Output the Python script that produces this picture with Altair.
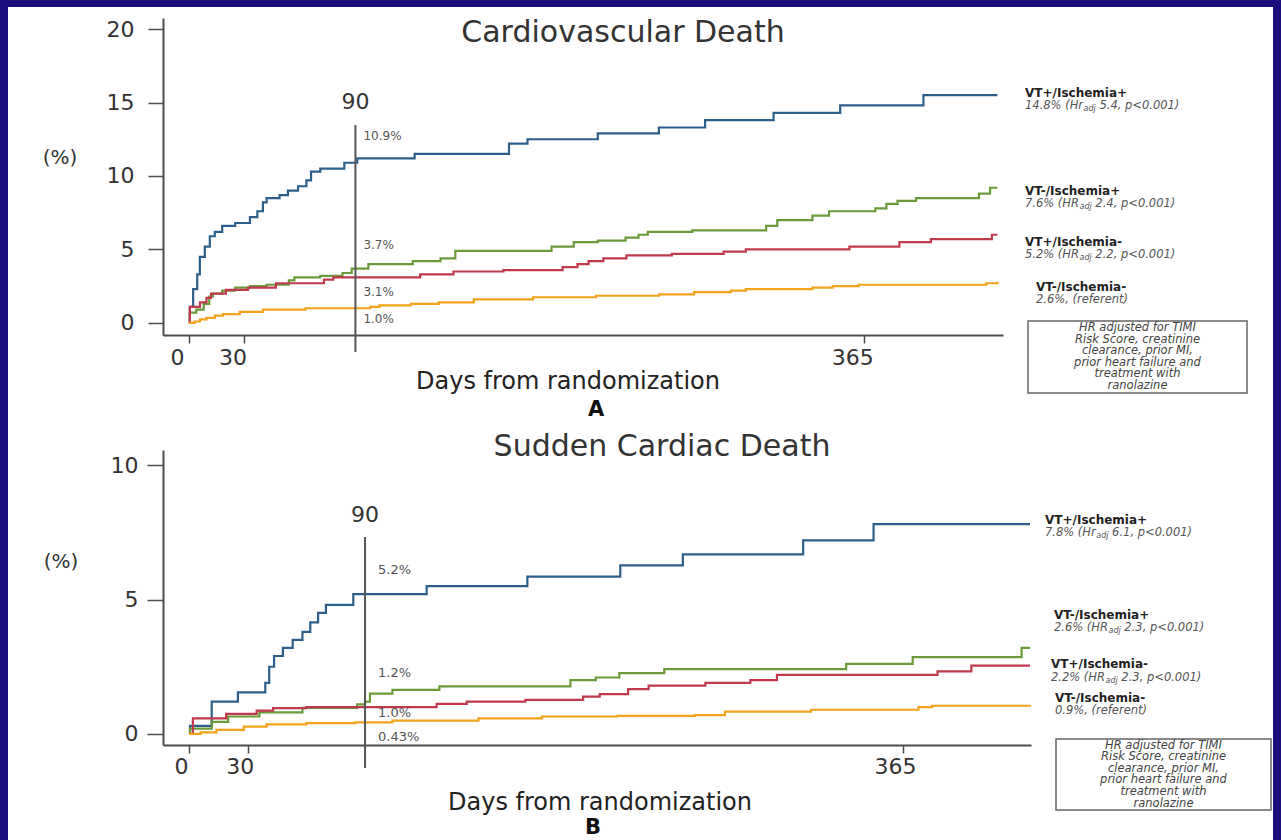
import altair as alt
import pandas as pd

FONT = "DejaVu Sans"
GROUPS = ["VT+/Ischemia+", "VT-/Ischemia+", "VT+/Ischemia-", "VT-/Ischemia-"]
COLORS = ["#2E5F8A", "#6A9A3A", "#C0394D", "#F2A21B"]

# ---- Panel A: cardiovascular death, cumulative incidence (%) by day ----
a_days = [
    [0, 0.5, 2.3, 4.5, 5.9, 8.6, 11.3, 14, 18, 25, 33, 37, 40, 42, 49, 53.5, 59, 63.5, 66, 71,
     84, 91, 122, 173, 183, 221, 254, 279, 316, 352, 397, 437],
    [0, 0.5, 4, 8, 11, 13, 18, 25, 33, 42, 54, 57, 71, 83, 88, 97, 121, 136, 144, 196, 208, 221,
     236, 243, 248, 272, 312, 318, 337, 346, 371, 377, 383, 393, 427, 433, 437],
    [0, 0.5, 6, 9.5, 12, 20, 32, 47, 73, 78, 125, 143, 170, 202, 210, 216, 224, 236.5, 261, 289,
     301, 357, 384, 401, 434, 437],
    [0, 3, 6, 9.5, 14, 18.5, 27.5, 40, 63, 98, 103, 120, 135, 154, 186, 220, 254, 273, 293, 301,
     337, 348, 362, 431, 437],
]
a_pct = [
    [0, 1.1, 2.3, 3.3, 4.5, 5.2, 5.9, 6.2, 6.6, 6.8, 7.2, 7.6, 8.2, 8.5, 8.7, 9.0, 9.3, 9.7, 10.3,
     10.5, 10.9, 11.2, 11.5, 12.2, 12.5, 12.9, 13.3, 13.8, 14.3, 14.8, 15.5, 15.5],
    [0, 0.7, 0.9, 1.3, 1.8, 2.0, 2.2, 2.4, 2.5, 2.6, 2.9, 3.1, 3.2, 3.4, 3.7, 4.0, 4.2, 4.4, 4.9,
     5.2, 5.5, 5.6, 5.8, 6.0, 6.2, 6.3, 6.6, 7.0, 7.3, 7.6, 7.8, 8.1, 8.3, 8.5, 8.8, 9.2, 9.2],
    [0, 1.1, 1.4, 1.7, 2.0, 2.25, 2.4, 2.7, 2.95, 3.1, 3.3, 3.5, 3.6, 3.8, 4.0, 4.2, 4.4, 4.6,
     4.7, 4.85, 5.0, 5.2, 5.5, 5.7, 6.0, 6.0],
    [0, 0.1, 0.25, 0.35, 0.5, 0.6, 0.75, 0.9, 1.0, 1.1, 1.2, 1.3, 1.4, 1.6, 1.75, 1.85, 1.95,
     2.1, 2.2, 2.3, 2.4, 2.5, 2.6, 2.7, 2.8],
]

# ---- Panel B: sudden cardiac death ----
b_days = [
    [0, 0.5, 11.6, 25, 39, 41, 43.5, 48, 53, 58, 62, 66, 70, 84, 121.5, 173, 220.5, 252.5, 314,
     350, 430],
    [0, 0.5, 11.6, 20, 36, 58, 86, 90, 92.5, 104, 128, 195, 208, 220, 243, 336, 370, 425.7, 430],
    [0, 2, 19, 34.6, 43, 60, 126.6, 142, 172, 201.5, 210, 224.5, 235, 264, 287, 300.6, 382.7,
     400, 430],
    [0, 6, 14, 28, 39.7, 60, 85, 104, 148, 180.5, 219, 258.7, 274, 318, 373, 380, 430],
]
b_pct = [
    [0, 0.3, 1.2, 1.55, 1.9, 2.5, 2.9, 3.2, 3.5, 3.8, 4.15, 4.5, 4.8, 5.2, 5.5, 5.85, 6.27, 6.68,
     7.2, 7.8, 7.8],
    [0, 0.2, 0.45, 0.65, 0.8, 0.97, 1.1, 1.2, 1.5, 1.64, 1.77, 2.0, 2.1, 2.26, 2.41, 2.61, 2.86,
     3.2, 3.2],
    [0, 0.58, 0.75, 0.87, 0.96, 1.0, 1.12, 1.2, 1.27, 1.39, 1.48, 1.67, 1.8, 1.9, 2.0, 2.2, 2.33,
     2.54, 2.54],
    [0, 0.06, 0.15, 0.27, 0.36, 0.4, 0.43, 0.5, 0.58, 0.65, 0.67, 0.7, 0.83, 0.9, 1.0, 1.05, 1.08],
]

# Values printed at the day-90 marker and next to each curve
a_at90 = ["10.9%", "3.7%", "3.1%", "1.0%"]
b_at90 = ["5.2%", "1.2%", "1.0%", "0.43%"]
a_stats = [("14.8% (Hr", "5.4, p<0.001)"), ("7.6% (HR", "2.4, p<0.001)"),
           ("5.2% (HR", "2.2, p<0.001)"), ("2.6%, (referent)", None)]
b_stats = [("7.8% (Hr", "6.1, p<0.001)"), ("2.6% (HR", "2.3, p<0.001)"),
           ("2.2% (HR", "2.3, p<0.001)"), ("0.9%, (referent)", None)]
NOTE = ["HR adjusted for TIMI", "Risk Score, creatinine", "clearance, prior MI,",
        "prior heart failure and", "treatment with", "ranolazine"]
MARK_DAY = 90

# ---- layout (pixels) ----
XA = alt.Scale(domain=[-14, 440], range=[163, 1003], nice=False, zero=False)
YA = alt.Scale(domain=[-0.82, 20.75], range=[335, 18], nice=False, zero=False)
XB = alt.Scale(domain=[-13.3, 430.5], range=[163, 1031], nice=False, zero=False)
YB = alt.Scale(domain=[-0.41, 10.56], range=[745, 450], nice=False, zero=False)
H = 840
SUB = 11.5       # size of the italic statistics lines
NOTE_LH = 11.6   # line height inside the note boxes

# DejaVu Sans advance widths (em) for measuring the subscript positions
ADV = {**{d: 0.636 for d in "0123456789"}, ".": 0.318, "%": 0.950, " ": 0.318,
       "(": 0.390, "H": 0.752, "r": 0.411, "R": 0.695, "a": 0.613, "d": 0.635, "j": 0.278,
       ",": 0.318}


def text_width(s, size):
    return sum(ADV.get(c, 0.6) for c in s) * size


def series_frame(days_list, pct_list):
    rows = []
    for g, ds, ps in zip(GROUPS, days_list, pct_list):
        rows += [{"group": g, "day": d, "pct": p} for d, p in zip(ds, ps)]
    return pd.DataFrame(rows)


def axis_common(**kw):
    base = dict(labelFont=FONT, labelFontSize=22, labelColor="#333", domainColor="#4d4d4d",
                domainWidth=2, tickColor="#4d4d4d", tickWidth=1.5, grid=False, title=None,
                labelFlush=False, labelOverlap=False)
    base.update(kw)
    return alt.Axis(**base)


def curves(days_list, pct_list, xs, ys, x_axis, y_axis):
    return alt.Chart(series_frame(days_list, pct_list)).mark_line(
        interpolate="step-after", strokeWidth=2.2
    ).encode(
        x=alt.X("day:Q", scale=xs, axis=x_axis),
        y=alt.Y("pct:Q", scale=ys, axis=y_axis),
        color=alt.Color("group:N", scale=alt.Scale(domain=GROUPS, range=COLORS), legend=None),
        detail="group:N",
    )


def pixel_text(rows, **mark):
    df = pd.DataFrame(rows, columns=["label", "px", "py"])
    return alt.Chart(df).mark_text(font=FONT, **mark).encode(
        x=alt.X("px:Q", scale=None, axis=None),
        y=alt.Y("py:Q", scale=None, axis=None),
        text="label:N",
    )


def day_marker(xs, top, bottom, label_y):
    df = pd.DataFrame({"day": [MARK_DAY], "label": [str(MARK_DAY)]})
    rule = alt.Chart(df).mark_rule(color="#555", strokeWidth=2).encode(
        x=alt.X("day:Q", scale=xs, axis=None), y=alt.value(top), y2=alt.value(bottom))
    lab = alt.Chart(df).mark_text(font=FONT, fontSize=22, color="#333", baseline="middle").encode(
        x=alt.X("day:Q", scale=xs, axis=None), y=alt.value(label_y), text="label:N")
    return [rule, lab]


def at90_labels(xs, labels, ys_px, size, dx):
    df = pd.DataFrame({"day": [MARK_DAY] * len(labels), "label": labels, "py": ys_px})
    return alt.Chart(df).mark_text(font=FONT, fontSize=size, color="#555", align="left",
                                   baseline="middle", dx=dx).encode(
        x=alt.X("day:Q", scale=xs, axis=None),
        y=alt.Y("py:Q", scale=None, axis=None),
        text="label:N",
    )


def group_labels(xs_px, head_y, sub_y, stats):
    heads, subs, adjs = [], [], []
    for g, x, hy, sy, (pre, post) in zip(GROUPS, xs_px, head_y, sub_y, stats):
        heads.append((g, x, hy))
        subs.append((pre, x, sy))
        if post:
            xa = x + text_width(pre, SUB) + 0.5
            adjs.append(("adj", xa, sy + 3))
            subs.append((post, xa + text_width("adj", 8) + text_width(" ", SUB), sy))
    return [
        pixel_text(heads, fontSize=12, fontWeight="bold", color="#222", align="left", baseline="middle"),
        pixel_text(subs, fontSize=SUB, fontStyle="italic", color="#555", align="left", baseline="middle"),
        pixel_text(adjs, fontSize=8, fontStyle="italic", color="#555", align="left", baseline="middle"),
    ]


def note_box(x0, x1, y0, y1):
    box = alt.Chart(pd.DataFrame({"px": [x0], "px2": [x1], "py": [y0], "py2": [y1]})).mark_rect(
        fill="white", stroke="#666", strokeWidth=1.5
    ).encode(
        x=alt.X("px:Q", scale=None, axis=None), x2="px2:Q",
        y=alt.Y("py:Q", scale=None, axis=None), y2="py2:Q",
    )
    cx = (x0 + x1) / 2
    first = (y0 + y1) / 2 - NOTE_LH * (len(NOTE) - 1) / 2
    rows = [(line, cx, first + i * NOTE_LH) for i, line in enumerate(NOTE)]
    txt = pixel_text(rows, fontSize=11.5, fontStyle="italic", color="#444", align="center",
                     baseline="middle")
    return [box, txt]


layers = []

# Panel A
layers.append(curves(
    a_days, a_pct, XA, YA,
    axis_common(orient="bottom", offset=335 - H, values=[0, 30, 365], tickSize=8,
                labelPadding=14, labelBaseline="middle", labelOffset=-12),
    axis_common(orient="left", offset=-163, values=[0, 5, 10, 15, 20], tickSize=15,
                labelPadding=14),
))
layers += day_marker(XA, 125, 352, 102)
layers.append(at90_labels(XA, a_at90, [136, 245, 292, 319], 12, 8))
layers += group_labels([1025, 1025, 1025, 1036], [93, 191, 242, 287], [106, 204, 255, 300], a_stats)
layers += note_box(1028, 1247, 321, 393)

# Panel B
layers.append(curves(
    b_days, b_pct, XB, YB,
    axis_common(orient="bottom", offset=745 - H, values=[0, 30, 365], tickSize=8,
                labelPadding=13, labelBaseline="middle", labelOffset=-8),
    axis_common(orient="left", offset=-163, values=[0, 5, 10], tickSize=16, labelPadding=9),
))
layers += day_marker(XB, 537, 768, 515)
layers.append(at90_labels(XB, b_at90, [570, 673, 713, 737], 13, 13))
layers += group_labels([1045, 1054, 1051, 1055], [520, 615, 664, 698], [533, 628, 678, 711], b_stats)
layers += note_box(1056, 1271, 739, 810)

# Titles and axis captions
layers.append(pixel_text([("Cardiovascular Death", 623, 33), ("Sudden Cardiac Death", 662, 447)],
                         fontSize=30, color="#333", align="center", baseline="middle"))
layers.append(pixel_text([("Days from randomization", 568, 382), ("Days from randomization", 600, 803)],
                         fontSize=24, color="#222", align="center", baseline="middle"))
layers.append(pixel_text([("(%)", 60, 158), ("(%)", 61, 562)],
                         fontSize=20, color="#333", align="center", baseline="middle"))
layers.append(pixel_text([("A", 596, 410), ("B", 593, 828)],
                         fontSize=21, fontWeight="bold", color="#111", align="center", baseline="middle"))

# Slide frame
frame = pd.DataFrame({"px": [0, 0, 1273], "px2": [1281, 8, 1281], "py": [0, 0, 0], "py2": [7, H, H]})
layers.append(alt.Chart(frame).mark_rect(color="#1B0D7D").encode(
    x=alt.X("px:Q", scale=None, axis=None), x2="px2:Q",
    y=alt.Y("py:Q", scale=None, axis=None), y2="py2:Q",
))

chart = alt.layer(*layers).resolve_scale(
    x="independent", y="independent"
).properties(
    width=1281, height=H, padding=0, background="white",
    autosize=alt.AutoSizeParams(type="none"),
).configure_view(stroke=None)

chart.save("out.html", embed_options={"renderer": "svg", "actions": False})
